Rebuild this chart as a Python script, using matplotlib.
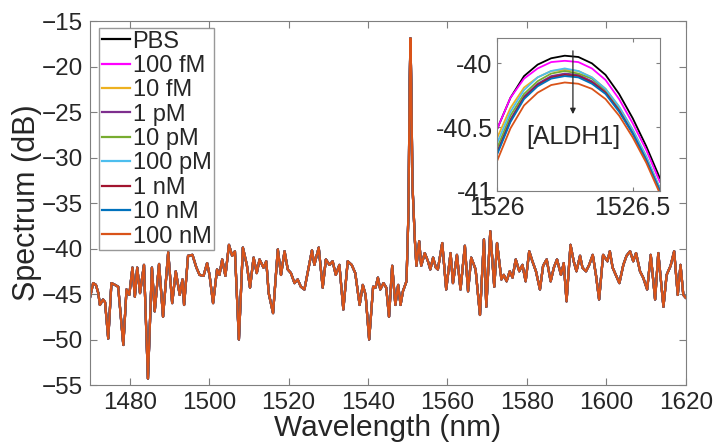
import numpy as np
import matplotlib.pyplot as plt

plt.rcParams['font.family'] = ['Liberation Sans', 'DejaVu Sans']

# Concentrations and MATLAB default colours
labels = ['PBS', '100 fM', '10 fM', '1 pM', '10 pM', '100 pM', '1 nM', '10 nM', '100 nM']
colors = ['#000000', '#FF00FF', '#EDB120', '#7E2F8E', '#77AC30', '#4DBEEE',
          '#A2142F', '#0072BD', '#D95319']

# Full spectrum (all concentrations overlap at this scale)
wl = [1470.0, 1470.8, 1471.5, 1472.1, 1472.5, 1473.3, 1473.8, 1474.6, 1475.4, 1476.3,
      1477.1, 1478.4, 1479.2, 1479.9, 1480.7, 1481.3, 1481.9, 1482.6, 1483.6, 1484.6,
      1485.6, 1486.3, 1487.4, 1488.4, 1489.7, 1490.7, 1491.6, 1492.6, 1493.3, 1493.7,
      1494.7, 1495.8, 1496.8, 1497.6, 1498.6, 1499.5, 1500.1, 1501.0, 1502.0, 1502.6,
      1503.3, 1504.1, 1505.0, 1505.8, 1506.5, 1507.5, 1508.5, 1509.5, 1510.3, 1511.2,
      1512.0, 1512.7, 1513.7, 1514.4, 1515.0, 1516.1, 1517.3, 1518.1, 1519.0, 1519.8,
      1520.6, 1521.5, 1522.3, 1523.1, 1524.0, 1524.8, 1525.9, 1526.5, 1527.6, 1528.6,
      1529.4, 1530.3, 1531.1, 1531.9, 1532.8, 1533.8, 1534.9, 1535.9, 1536.8, 1537.9,
      1538.7, 1539.4, 1540.3, 1541.3, 1541.9, 1542.5, 1543.1, 1543.9, 1544.6, 1545.3,
      1546.1, 1546.9, 1547.6, 1548.2, 1548.8, 1549.7, 1550.2, 1550.5, 1550.7, 1550.9,
      1551.2, 1551.8, 1552.2, 1552.9, 1553.4, 1554.3, 1555.1, 1555.7, 1556.4, 1557.1,
      1557.6, 1558.7, 1559.7, 1560.8, 1561.4, 1562.4, 1563.3, 1564.4, 1565.2, 1566.0,
      1567.1, 1568.2, 1569.2, 1569.8, 1570.8, 1571.8, 1572.5, 1573.6, 1574.2, 1574.9,
      1575.7, 1576.4, 1577.2, 1578.1, 1578.9, 1579.7, 1580.6, 1581.4, 1582.3, 1583.3,
      1584.1, 1585.0, 1586.0, 1586.8, 1587.6, 1588.6, 1589.3, 1590.0, 1591.0, 1591.8,
      1592.5, 1593.4, 1594.0, 1594.9, 1595.7, 1596.6, 1597.4, 1598.2, 1599.2, 1600.3,
      1600.9, 1601.6, 1602.4, 1603.3, 1604.3, 1605.1, 1606.0, 1606.8, 1607.5, 1608.5,
      1609.3, 1610.3, 1611.2, 1612.3, 1613.1, 1614.4, 1615.2, 1616.2, 1617.1, 1618.0,
      1618.7, 1619.4, 1620.0]
spec = [-45.4, -43.8, -44.0, -44.9, -46.2, -45.6, -45.9, -49.9, -43.8, -44.0,
        -44.2, -50.6, -44.5, -45.1, -42.1, -45.3, -42.1, -44.9, -41.8, -54.3,
        -42.1, -46.9, -41.7, -47.5, -40.4, -46.0, -42.5, -45.1, -43.4, -46.2,
        -40.8, -40.7, -42.1, -42.9, -43.0, -41.6, -42.9, -46.0, -42.3, -42.9,
        -41.2, -43.0, -39.6, -40.8, -40.3, -50.0, -39.9, -41.8, -44.3, -41.0,
        -42.7, -41.2, -42.1, -41.4, -44.9, -47.1, -40.1, -42.9, -40.3, -42.3,
        -42.7, -43.8, -43.4, -44.2, -44.5, -42.7, -40.2, -41.8, -39.9, -44.3,
        -41.2, -41.8, -41.4, -42.9, -41.8, -46.7, -41.4, -41.8, -42.7, -46.2,
        -44.0, -45.1, -50.0, -44.2, -44.3, -43.2, -44.5, -43.8, -44.3, -47.5,
        -41.9, -46.2, -44.0, -46.2, -44.7, -43.6, -36.0, -22.0, -16.9, -22.0,
        -33.0, -39.0, -41.9, -39.2, -41.9, -40.5, -41.4, -42.3, -41.0, -42.1,
        -42.3, -39.4, -44.5, -40.5, -43.8, -40.7, -44.5, -39.7, -44.7, -41.0,
        -42.3, -47.3, -39.0, -46.4, -38.1, -44.2, -39.4, -43.4, -42.9, -43.6,
        -42.5, -43.2, -41.2, -42.5, -41.8, -43.6, -40.3, -41.4, -42.5, -44.5,
        -41.9, -41.2, -43.6, -42.1, -41.2, -42.9, -41.6, -45.8, -39.6, -41.4,
        -42.5, -40.8, -42.1, -42.5, -41.8, -40.7, -42.9, -45.6, -40.7, -41.4,
        -40.3, -42.1, -42.9, -43.8, -41.8, -40.8, -40.3, -41.4, -40.5, -42.5,
        -43.2, -44.5, -40.7, -45.6, -40.5, -46.4, -42.9, -41.9, -40.3, -45.1,
        -41.8, -45.1, -45.4]

# Zoomed peak near 1526.25 nm for each concentration
wl_zoom = [1526.00, 1526.05, 1526.10, 1526.15, 1526.20, 1526.25, 1526.30,
           1526.35, 1526.40, 1526.45, 1526.50, 1526.55, 1526.60]
pbs = [-40.52, -40.27, -40.10, -40.01, -39.96, -39.94, -39.95, -40.00, -40.09, -40.24, -40.43, -40.65, -40.90]
fm100 = [-40.52, -40.27, -40.12, -40.04, -39.99, -39.98, -39.99, -40.04, -40.13, -40.28, -40.47, -40.68, -40.93]
fm10 = [-40.59, -40.35, -40.19, -40.11, -40.06, -40.05, -40.06, -40.11, -40.20, -40.34, -40.52, -40.73, -40.98]
pm1 = [-40.70, -40.44, -40.26, -40.16, -40.10, -40.08, -40.09, -40.14, -40.22, -40.36, -40.54, -40.75, -40.99]
pm10 = [-40.67, -40.41, -40.24, -40.14, -40.08, -40.06, -40.08, -40.12, -40.21, -40.35, -40.53, -40.74, -40.99]
pm100 = [-40.63, -40.38, -40.21, -40.11, -40.06, -40.04, -40.06, -40.11, -40.20, -40.34, -40.52, -40.73, -40.98]
nm1 = [-40.71, -40.45, -40.27, -40.17, -40.11, -40.09, -40.10, -40.15, -40.23, -40.37, -40.55, -40.76, -41.00]
nm10 = [-40.72, -40.46, -40.28, -40.18, -40.12, -40.10, -40.11, -40.16, -40.24, -40.38, -40.55, -40.76, -41.00]
nm100 = [-40.77, -40.51, -40.33, -40.23, -40.17, -40.15, -40.16, -40.20, -40.28, -40.41, -40.58, -40.78, -41.02]
zoom_series = [pbs, fm100, fm10, pm1, pm10, pm100, nm1, nm10, nm100]

edge = '#7f7f7f'
txt = '#262626'

fig = plt.figure(figsize=(7.18, 4.48), dpi=100)
ax = fig.add_axes([0.1253, 0.1406, 0.8297, 0.8125])
for lab, c in zip(labels, colors):
    ax.plot(wl, spec, color=c, linewidth=1.6, label=lab)

ax.set_xlim(1470, 1620)
ax.set_ylim(-55, -15)
ax.set_xticks(np.arange(1480, 1621, 20))
ax.set_yticks(np.arange(-55, -14, 5))
ax.tick_params(direction='in', top=True, right=True, labelsize=17.5, colors=edge,
               labelcolor=txt, length=5, pad=5)
for s in ax.spines.values():
    s.set_color(edge)
ax.set_xlabel('Wavelength (nm)', fontsize=21.5, color=txt, labelpad=0)
ax.set_ylabel('Spectrum (dB)', fontsize=22, color=txt, labelpad=0)

leg = ax.legend(loc='upper left', bbox_to_anchor=(0.008, 0.993), fontsize=17,
                frameon=True, fancybox=False, handlelength=1.2, handletextpad=0.1,
                labelspacing=0.1, borderpad=0.1, borderaxespad=0.2)
leg.get_frame().set_edgecolor(edge)
leg.get_frame().set_linewidth(1.0)
for t in leg.get_texts():
    t.set_color(txt)

# inset
ins = fig.add_axes([0.692, 0.574, 0.227, 0.3415])
for ys, c in zip(zoom_series, colors):
    ins.plot(wl_zoom, ys, color=c, linewidth=1.3)
ins.set_xlim(1526, 1526.6)
ins.set_ylim(-41, -39.8)
ins.set_xticks([1526, 1526.5])
ins.set_xticklabels(['1526', '1526.5'])
ins.set_yticks([-41, -40.5, -40])
ins.set_yticklabels(['-41', '-40.5', '-40'])
ins.tick_params(direction='in', top=True, right=True, labelsize=18, colors=edge,
                labelcolor=txt, length=3)
ins.tick_params(axis='x', pad=4)
ins.tick_params(axis='y', pad=3)
for s in ins.spines.values():
    s.set_color(edge)
ins.annotate('', xy=(1526.28, -40.42), xytext=(1526.28, -39.88),
             arrowprops=dict(arrowstyle='-|>', color='#262626', lw=0.9,
                             mutation_scale=8))
ins.text(1526.28, -40.58, '[ALDH1]', ha='center', va='center', fontsize=18, color=txt)

fig.savefig('out.png', dpi=100)
